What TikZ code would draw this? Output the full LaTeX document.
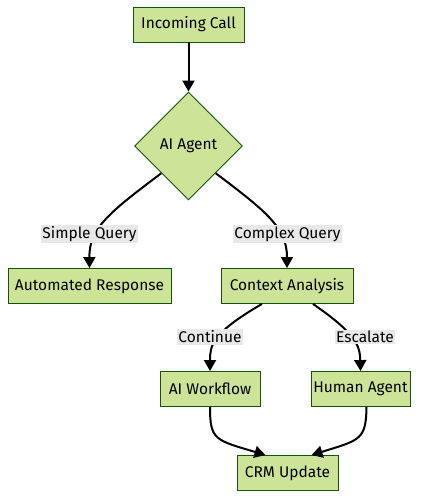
\documentclass[tikz,border=0pt]{standalone}
\usepackage{fontspec}
\setmainfont{Fira Sans}
\usetikzlibrary{shapes.geometric,arrows.meta}
\definecolor{nodefill}{HTML}{CDE498}
\definecolor{nodeline}{HTML}{13540C}
\definecolor{lblbg}{HTML}{E8E8E8}
\begin{document}
\begin{tikzpicture}[x=1pt,y=-1pt,
  every node/.style={font=\fontsize{15.5}{17}\selectfont},
  box/.style={draw=nodeline,fill=nodefill,line width=0.9pt,minimum height=35pt,inner sep=0pt},
  dia/.style={draw=nodeline,fill=nodefill,line width=0.9pt,diamond,minimum width=108pt,minimum height=108pt,inner sep=0pt},
  lbl/.style={fill=lblbg,inner sep=1.5pt},
  edge/.style={line width=2pt,-{Triangle[length=11pt,width=12pt]}}]
\useasboundingbox (0,0) rectangle (429,498);
\node[box,minimum width=111pt] (ic) at (188.5,24.5) {Incoming Call};
\node[dia] (ai) at (188.5,146) {AI Agent};
\node[box,minimum width=163pt] (ar) at (89.5,286) {Automated Response};
\node[box,minimum width=132pt] (ca) at (287,286) {Context Analysis};
\node[box,minimum width=100pt] (aw) at (210,389) {AI Workflow};
\node[box,minimum width=99pt] (ha) at (360.5,389) {Human Agent};
\node[box,minimum width=101pt] (crm) at (287.5,473) {CRM Update};

\draw[edge] (ic.south) -- (ai.north);
\draw[edge] (ai.south west) .. controls (110,212) and (89,228) .. (ar.north);
\draw[edge] (ai.south east) .. controls (267,212) and (287,228) .. (ca.north);
\draw[edge] ([xshift=-25pt]ca.south) .. controls (212,333) and (210,345) .. (aw.north);
\draw[edge] ([xshift=26pt]ca.south) .. controls (355,333) and (360,345) .. (ha.north);
\draw[edge] (aw.south) .. controls (210,440) and (215,440) .. ([xshift=-22pt]crm.north);
\draw[edge] ([xshift=6pt]ha.south) .. controls (366,440) and (360,440) .. ([xshift=24pt]crm.north);

\node[lbl] (l1) at (89.5,234) {Simple Query};
\node[lbl] (l2) at (287.5,234) {Complex Query};
\node[lbl] (l3) at (210,337) {Continue};
\node[lbl] (l4) at (365,337) {Escalate};
\end{tikzpicture}
\end{document}
